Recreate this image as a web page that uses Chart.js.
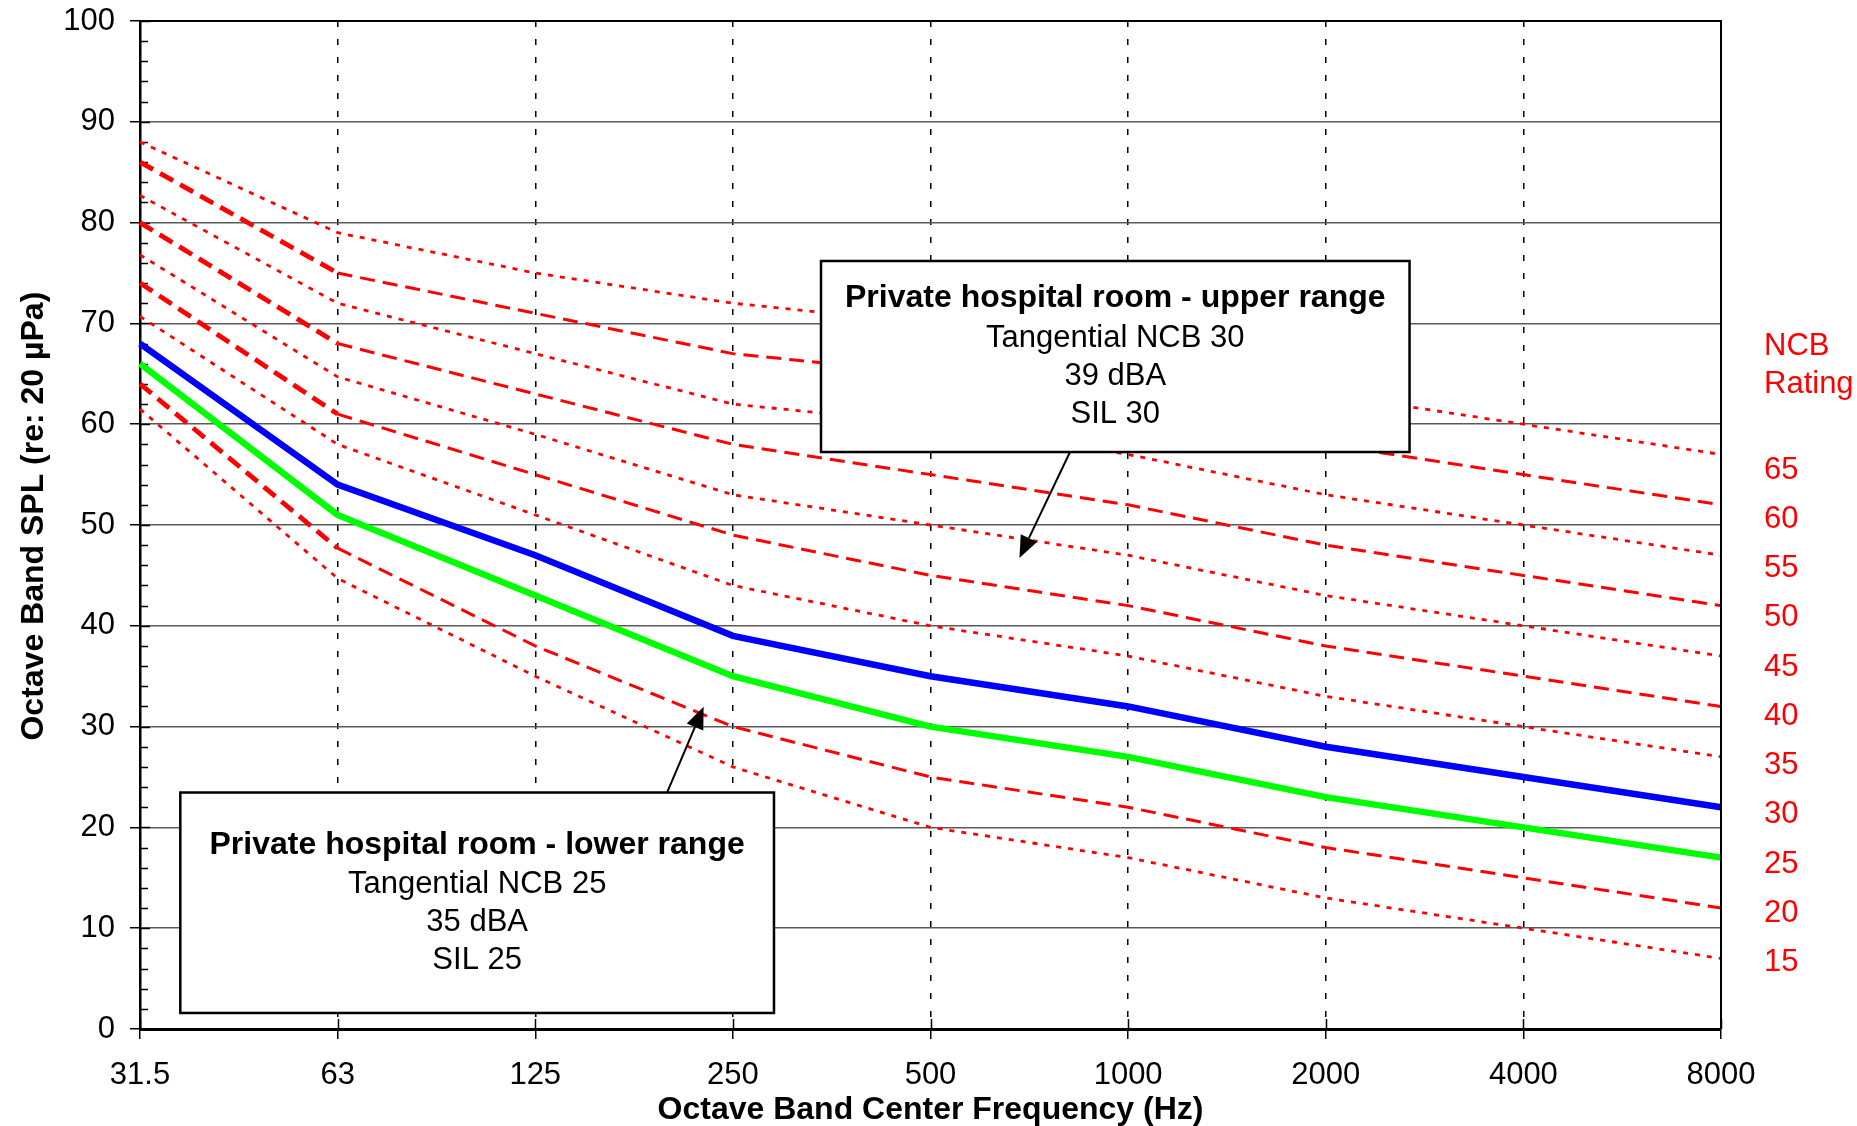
<!DOCTYPE html>
<html><head><meta charset="utf-8">
<script src="https://cdn.jsdelivr.net/npm/chart.js@4/dist/chart.umd.min.js"></script>
<style>html,body{margin:0;padding:0;background:#fff;} canvas{display:block;}</style>
</head><body>
<canvas id="c" width="1857" height="1126"></canvas>
<script>
// ---- data ----
const frequencies = ['31.5','63','125','250','500','1000','2000','4000','8000'];
const upperRange = [68,54,47,39,35,32,28,25,22];   // blue - Tangential NCB 30
const lowerRange = [66,51,43,35,30,27,23,20,17];   // green - Tangential NCB 25
const ncbRatings = [65,60,55,50,45,40,35,30,25,20,15];
const ncb65 = [88,79,75,72,70,67,63,60,57];
const ncb60 = [86,75,71,67,65,62,58,55,52];
const ncb55 = [82.7,72,67,62,60,57,53,50,47];
const ncb50 = [80,68,63,58,55,52,48,45,42];
const ncb45 = [76.8,64.7,59,53,50,47,43,40,37];
const ncb40 = [74,61,55,49,45,42,38,35,32];
const ncb35 = [70.7,58,51,44,40,37,33,30,27];
const ncb30 = [68,54,47,39,35,32,28,25,22];
const ncb25 = [66,51,43,35,30,27,23,20,17];
const ncb20 = [64,47.7,38,30,25,22,18,15,12];
const ncb15 = [61.5,44.7,35,26,20,17,13,10,7];
const ncbCurves = [ncb65,ncb60,ncb55,ncb50,ncb45,ncb40,ncb35,ncb30,ncb25,ncb20,ncb15];
const yTicks = [0,10,20,30,40,50,60,70,80,90,100];

// annotation boxes in data units (category index, dB)
const notes = [
  {x1:3.446, x2:6.424, yTop:76.19, yBot:57.24, from:[4.706,57.24], to:[4.450,46.73],
   lines:['Private hospital room - upper range','Tangential NCB 30','39 dBA','SIL 30']},
  {x1:0.204, x2:3.208, yTop:23.46, yBot:1.59, from:[2.667,23.46], to:[2.852,31.97],
   lines:['Private hospital room - lower range','Tangential NCB 25','35 dBA','SIL 25']}
];

const FONT = "'Liberation Sans', Arial, Helvetica, sans-serif";

function ncbDataset(rating, data) {
  const dashed = rating % 10 === 0;
  return {
    label: 'NCB ' + rating, data,
    borderColor: '#FF0000', backgroundColor: '#FF0000',
    pointRadius: 0, fill: false, tension: 0,
    borderWidth: dashed ? 3 : 2.8,
    borderDash: dashed ? [15, 8] : [5, 7],
    segment: dashed ? { borderWidth: c => c.p0DataIndex === 0 ? 4.8 : 3 } : {}
  };
}

const datasets = [
  {label:'Upper range', data: upperRange, borderColor:'#0000FF', borderWidth:6.5, pointRadius:0, tension:0, fill:false},
  {label:'Lower range', data: lowerRange, borderColor:'#00FF00', borderWidth:6.5, pointRadius:0, tension:0, fill:false}
].concat(ncbCurves.map((d, i) => ncbDataset(ncbRatings[i], d)));

const decor = {
  id: 'decor',
  beforeDatasetsDraw(chart) {
    const {ctx, chartArea: a, scales: {x, y}} = chart;
    ctx.save();
    ctx.strokeStyle = '#000';
    ctx.lineWidth = 1.5;
    for (let v = 0; v <= 100; v += 2) {
      const py = Math.round(y.getPixelForValue(v)) + 0.5;
      const len = v % 10 === 0 ? 10 : 8;
      ctx.beginPath(); ctx.moveTo(a.left, py); ctx.lineTo(a.left + len, py); ctx.stroke();
    }
    for (let i = 0; i < frequencies.length; i++) {
      const px = Math.round(x.getPixelForValue(i)) + 0.5;
      ctx.beginPath(); ctx.moveTo(px, a.bottom); ctx.lineTo(px, a.bottom - 10); ctx.stroke();
    }
    ctx.restore();
  },
  afterDatasetsDraw(chart) {
    const {ctx, chartArea: a, scales: {x, y}} = chart;
    ctx.save();
    ctx.strokeStyle = '#000';
    ctx.lineWidth = 2;
    ctx.beginPath();
    ctx.moveTo(a.left, a.top); ctx.lineTo(a.right, a.top); ctx.lineTo(a.right, a.bottom);
    ctx.stroke();
    notes.forEach(n => {
      const l = x.getPixelForValue(n.x1), r = x.getPixelForValue(n.x2);
      const t = y.getPixelForValue(n.yTop), b = y.getPixelForValue(n.yBot);
      const fx = x.getPixelForValue(n.from[0]), fy = y.getPixelForValue(n.from[1]);
      const tx = x.getPixelForValue(n.to[0]), ty = y.getPixelForValue(n.to[1]);
      const ang = Math.atan2(ty - fy, tx - fx);
      const hl = 22, hw = 9;
      const bx = tx - hl * Math.cos(ang), by = ty - hl * Math.sin(ang);
      ctx.strokeStyle = '#000'; ctx.fillStyle = '#000'; ctx.lineWidth = 2;
      ctx.beginPath(); ctx.moveTo(fx, fy); ctx.lineTo(bx, by); ctx.stroke();
      ctx.beginPath();
      ctx.moveTo(tx, ty);
      ctx.lineTo(bx + hw * Math.sin(ang), by - hw * Math.cos(ang));
      ctx.lineTo(bx - hw * Math.sin(ang), by + hw * Math.cos(ang));
      ctx.closePath(); ctx.fill();
      ctx.fillStyle = '#fff';
      ctx.fillRect(l, t, r - l, b - t);
      ctx.lineWidth = 2.5; ctx.strokeStyle = '#000';
      ctx.strokeRect(l, t, r - l, b - t);
      const cx = (l + r) / 2, cy = (t + b) / 2;
      const offs = [-58, -18.5, 19.5, 57.5];
      ctx.fillStyle = '#000';
      ctx.textAlign = 'center'; ctx.textBaseline = 'middle';
      n.lines.forEach((s, i) => {
        ctx.font = (i === 0 ? 'bold 32px ' : '31px ') + FONT;
        ctx.fillText(s, cx, cy + offs[i]);
      });
    });
    ctx.restore();
  },
  afterDraw(chart) {
    const {ctx, chartArea: a} = chart;
    ctx.save();
    ctx.fillStyle = '#FF0000';
    ctx.font = '31px ' + FONT;
    ctx.textAlign = 'left'; ctx.textBaseline = 'middle';
    const lx = a.right + 43;
    ctx.fillText('NCB', lx, 346);
    ctx.fillText('Rating', lx, 384);
    ncbRatings.forEach((r, i) => {
      ctx.fillText(String(r), lx, 470 + i * 49.26);
    });
    ctx.restore();
  }
};

new Chart(document.getElementById('c'), {
  type: 'line',
  data: { labels: frequencies, datasets },
  options: {
    responsive: false,
    animation: false,
    events: [],
    layout: { padding: { top: 21, right: 136, left: 0, bottom: 0 } },
    plugins: { legend: { display: false }, tooltip: { enabled: false }, title: { display: false } },
    scales: {
      x: {
        type: 'category',
        offset: false,
        afterFit(s) { s.height = 97; s.paddingLeft = 0; s.paddingRight = 0; },
        grid: { color: '#000', lineWidth: 1.5, tickLength: 10, tickColor: '#000', tickWidth: 1.5, tickBorderDash: [] },
        border: { display: true, color: '#000', width: 3, dash: [6, 12] },
        ticks: { color: '#000', font: { family: FONT, size: 31 }, padding: 18, maxRotation: 0, autoSkip: false },
        title: { display: true, text: 'Octave Band Center Frequency (Hz)', color: '#000',
                 font: { family: FONT, size: 32, weight: 'bold', lineHeight: 1 }, padding: { top: 0, bottom: 0 } }
      },
      y: {
        min: 0, max: 100,
        afterFit(s) { s.width = 140; s.paddingTop = 0; s.paddingBottom = 0; },
        afterBuildTicks(s) { s.ticks = yTicks.map(v => ({ value: v })); },
        grid: { color: '#5a5a5a', lineWidth: 1.5, tickLength: 10, tickColor: '#000', tickWidth: 1.5 },
        border: { display: true, color: '#000', width: 2.5 },
        ticks: { color: '#000', font: { family: FONT, size: 31 }, padding: 15 },
        title: { display: true, text: '  Octave Band SPL (re: 20 µPa)', color: '#000',
                 font: { family: FONT, size: 32, weight: 'bold', lineHeight: 1 }, padding: { top: 18, bottom: 0 } }
      }
    }
  },
  plugins: [decor]
});
</script>
</body></html>
